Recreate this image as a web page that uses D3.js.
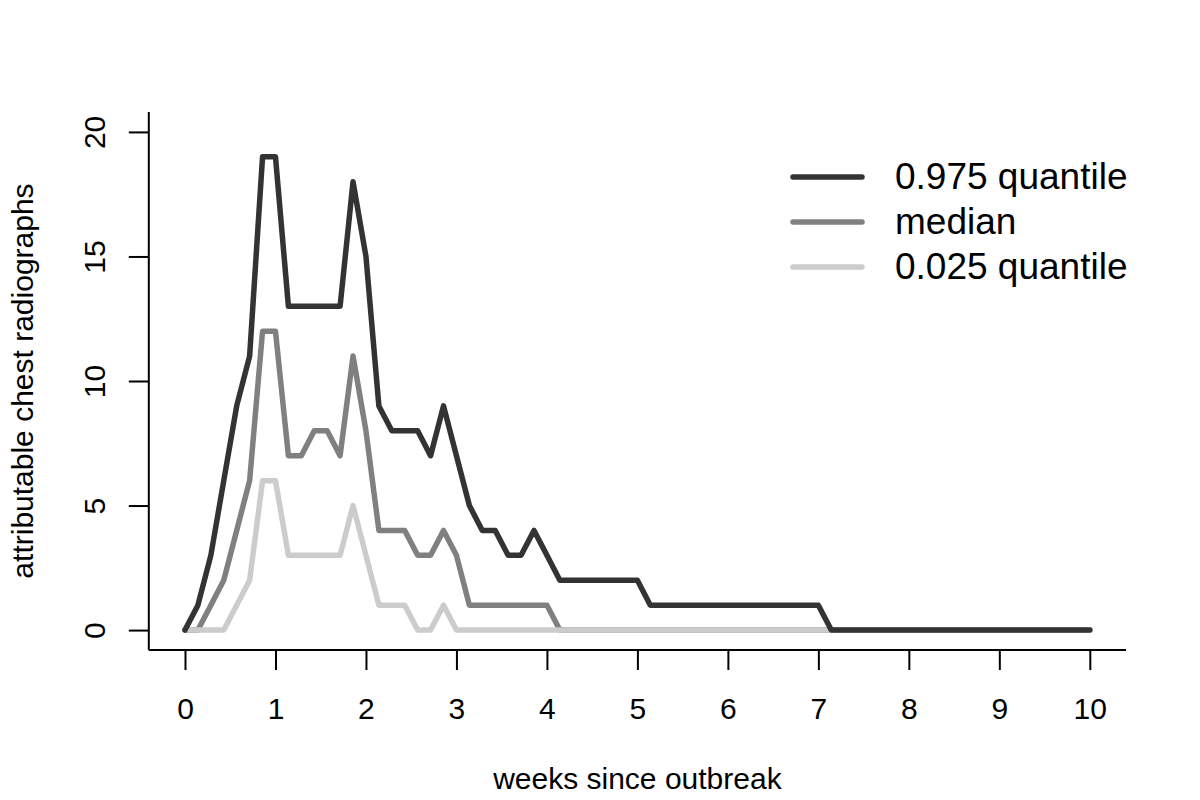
<!DOCTYPE html>
<html>
<head>
<meta charset="utf-8">
<script src="https://cdnjs.cloudflare.com/ajax/libs/d3/7.8.5/d3.min.js"></script>
<style>
  body { margin: 0; background: #fff; }
  text { font-family: "Liberation Sans", Arial, Helvetica, sans-serif; }
</style>
</head>
<body>
<div id="svg-area"></div>
<script>
// daily values, day 0 .. day 70 (x axis in weeks = day / 7)
var upper = [0,1,3,6,9,11,19,19,13,13,13,13,13,18,15,9,8,8,8,7,9,7,5,4,4,3,3,4,3,
  2,2,2,2,2,2,2,
  1,1,1,1,1,1,1,1,1,1,1,1,1,1,
  0,0,0,0,0,0,0,0,0,0,0,0,0,0,0,0,0,0,0,0,0];
var median = [0,0,1,2,4,6,12,12,7,7,8,8,7,11,8,4,4,4,3,3,4,3,1,1,1,1,1,1,1,
  0,0,0,0,0,0,0,0,0,0,0,0,0,0,0,0,0,0,0,0,0,
  0,0,0,0,0,0,0,0,0,0,0,0,0,0,0,0,0,0,0,0,0];
var lower = [0,0,0,0,1,2,6,6,3,3,3,3,3,5,3,1,1,1,0,0,1,0,
  0,0,0,0,0,0,0,0,0,0,0,0,0,0,0,0,0,0,0,0,0,0,0,0,0,0,0,0,
  0,0,0,0,0,0,0,0,0,0,0,0,0,0,0,0,0,0,0,0,0];
var xTicks = [0,1,2,3,4,5,6,7,8,9,10];
var yTicks = [0,5,10,15,20];
var legendLabels = ["0.975 quantile", "median", "0.025 quantile"];
var colors = ["#333333", "#808080", "#cccccc"];

var width = 1200, height = 800;

var svg = d3.select("#svg-area")
    .append("svg")
    .attr("width", width)
    .attr("height", height);

// R style: data range padded by 4% each side
var x = d3.scaleLinear().domain([-0.4, 10.4]).range([148.8, 1126]);
var y = d3.scaleLinear().domain([-0.8, 20.8]).range([650, 112]);

// axes (L shaped frame)
svg.append("line")
    .attr("x1", x(-0.4)).attr("x2", x(-0.4))
    .attr("y1", y(20.8)).attr("y2", y(-0.8))
    .attr("stroke", "#000").attr("stroke-width", 2);
svg.append("line")
    .attr("x1", x(-0.4)).attr("x2", x(10.4))
    .attr("y1", y(-0.8)).attr("y2", y(-0.8))
    .attr("stroke", "#000").attr("stroke-width", 2);

var xAxis = svg.append("g")
    .attr("transform", "translate(0," + y(-0.8) + ")")
    .call(d3.axisBottom(x).tickValues(xTicks).tickSize(20).tickPadding(28).tickFormat(d3.format("d")));
xAxis.select(".domain").remove();
xAxis.selectAll("line").attr("stroke-width", 2);
xAxis.selectAll("text").attr("font-size", 30).attr("font-family", "Liberation Sans, Arial, sans-serif").attr("fill", "#000");

var yAxis = svg.append("g")
    .attr("transform", "translate(" + x(-0.4) + ",0)")
    .call(d3.axisLeft(y).tickValues(yTicks).tickSize(20).tickFormat(d3.format("d")));
yAxis.select(".domain").remove();
yAxis.selectAll("line").attr("stroke-width", 2);
yAxis.selectAll("text")
    .attr("font-size", 30)
    .attr("font-family", "Liberation Sans, Arial, sans-serif")
    .attr("fill", "#000")
    .attr("x", null).attr("dy", null)
    .attr("text-anchor", "middle")
    .attr("transform", "translate(-44,0) rotate(-90)");

// axis titles
svg.append("text")
    .attr("x", (x(0) + x(10)) / 2)
    .attr("y", 789)
    .attr("text-anchor", "middle")
    .attr("font-size", 30)
    .text("weeks since outbreak");

svg.append("text")
    .attr("transform", "translate(33," + (y(0) + y(20)) / 2 + ") rotate(-90)")
    .attr("text-anchor", "middle")
    .attr("font-size", 30)
    .text("attributable chest radiographs");

// lines: median, then lower, then upper on top
var line = d3.line()
    .x(function(d, i) { return x(i / 7); })
    .y(function(d) { return y(d); });

var series = [
  {values: median, color: colors[1]},
  {values: lower, color: colors[2]},
  {values: upper, color: colors[0]}
];

svg.selectAll("path.series")
    .data(series)
    .enter()
    .append("path")
    .attr("class", "series")
    .attr("d", function(d) { return line(d.values); })
    .attr("fill", "none")
    .attr("stroke", function(d) { return d.color; })
    .attr("stroke-width", 5.5)
    .attr("stroke-linejoin", "round")
    .attr("stroke-linecap", "round");

// legend
var legend = svg.selectAll("g.legend")
    .data(legendLabels)
    .enter()
    .append("g")
    .attr("class", "legend")
    .attr("transform", function(d, i) { return "translate(793," + (177 + i * 45) + ")"; });

legend.append("line")
    .attr("x1", 0).attr("x2", 69)
    .attr("stroke", function(d, i) { return colors[i]; })
    .attr("stroke-width", 5.5)
    .attr("stroke-linecap", "round");

legend.append("text")
    .attr("x", 102)
    .attr("y", 12)
    .attr("font-size", 37)
    .text(function(d) { return d; });
</script>
</body>
</html>
